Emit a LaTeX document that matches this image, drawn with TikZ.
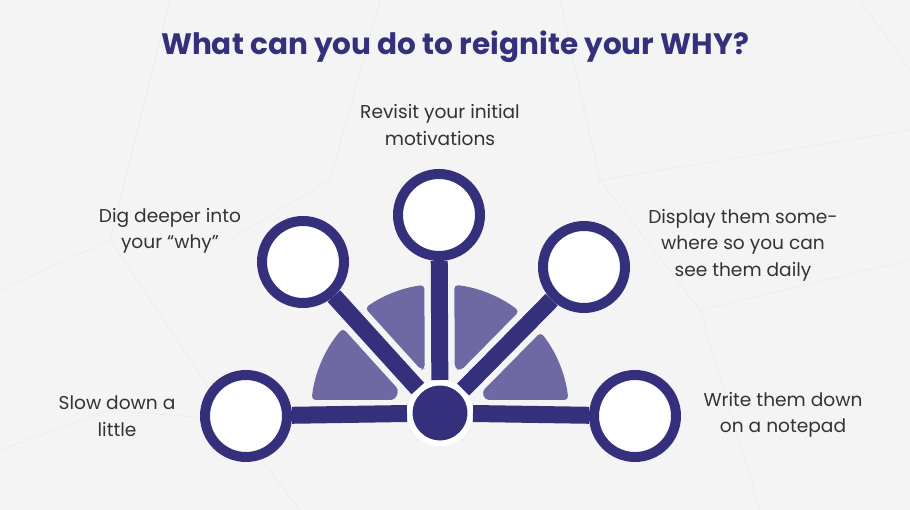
\documentclass[tikz,border=0pt]{standalone}
\usepackage{fontspec}
\setmainfont{Poppins}
\usepackage{tikz}
\usetikzlibrary{calc}
\usetikzlibrary{shadows}
\definecolor{indigo}{rgb}{0.208, 0.188, 0.486}
\definecolor{lavender}{rgb}{0.431, 0.408, 0.639}
\definecolor{paper}{rgb}{0.957, 0.957, 0.961}
\definecolor{ink}{rgb}{0.20, 0.20, 0.20}
\definecolor{web}{rgb}{0.90, 0.90, 0.91}

\begin{document}
\begin{tikzpicture}[x=1pt,y=1pt]
	\tikzstyle{ring} = [circle,draw=indigo,fill=white,line width=10pt,minimum size=82pt,inner sep=0pt]
	\tikzstyle{spoke} = [indigo,line width=17pt]
	\tikzstyle{wedge} = [fill=lavender,rounded corners=4pt]
	\tikzstyle{blurb} = [text=ink,align=center,font=\fontsize{18.6}{26.5}\selectfont]

	% Draw the background.
	\fill[paper] (0,0) rectangle (910,510);
	\useasboundingbox (0,0) rectangle (910,510);

	% Faint web behind everything
	\draw[web,line width=0.3pt] (0,220) -- (110,270) -- (170,510);
	\draw[web,line width=0.3pt] (110,270) -- (230,90) -- (300,0);
	\draw[web,line width=0.3pt] (0,60) -- (110,100) -- (230,90);
	\draw[web,line width=0.3pt] (560,510) -- (600,330) -- (910,380);
	\draw[web,line width=0.3pt] (600,330) -- (700,200) -- (910,250);
	\draw[web,line width=0.3pt] (700,200) -- (760,0);
	\draw[web,line width=0.3pt] (380,510) -- (330,330) -- (230,270);
	\draw[web,line width=0.3pt] (860,510) -- (910,440);

	% Title
	\node[text=indigo,font=\fontsize{29.5}{33}\selectfont\bfseries] (title) at (455,463) {What can you do to reignite your WHY?};

	% Wedges of the half disk
	\coordinate (c) at (440,97);
	\foreach \a/\b/\wa/\wb in {0/45.4/13/15, 45.4/90.3/15/15, 90.3/132.2/15/15, 132.2/180/15/13}
	{
		\fill[wedge] ($(c)+({\a+asin(\wa/129)}:129pt)$) arc[start angle={\a+asin(\wa/129)}, end angle={\b-asin(\wb/129)}, radius=129pt]
			-- ($(c)+({\b-asin(\wb/47)}:47pt)$) -- ($(c)+({\a+asin(\wa/47)}:47pt)$) -- cycle;
	}

	% Rings and hub
	\node[ring] (left) at (246,94) {};
	\node[ring] (upleft) at (303,248) {};
	\node[ring] (up) at (439,295) {};
	\node[ring] (upright) at (584,243) {};
	\node[ring] (right) at (635,94) {};
	\node[circle,fill=indigo,draw=white,line width=5.5pt,minimum size=60.5pt,inner sep=0pt,
		drop shadow={opacity=0.18,shadow xshift=0pt,shadow yshift=-1.5pt}] (hub) at (c) {};

	\foreach \n in {left,upleft,up,upright,right}
	{
		\draw[spoke] (hub) -- (\n);
	}

	% Texts
	\node[blurb] (tup) at (440,385) {Revisit your initial\\motivations};
	\node[blurb] (tupleft) at (170,279) {Dig deeper into\\your “why”};
	\node[blurb] (tupright) at (743,265) {Display them some-\\where so you can\\see them daily};
	\node[blurb] (tleft) at (117,94) {Slow down a\\little};
	\node[blurb] (tright) at (783,95) {Write them down\\on a notepad};
\end{tikzpicture}
\end{document}
